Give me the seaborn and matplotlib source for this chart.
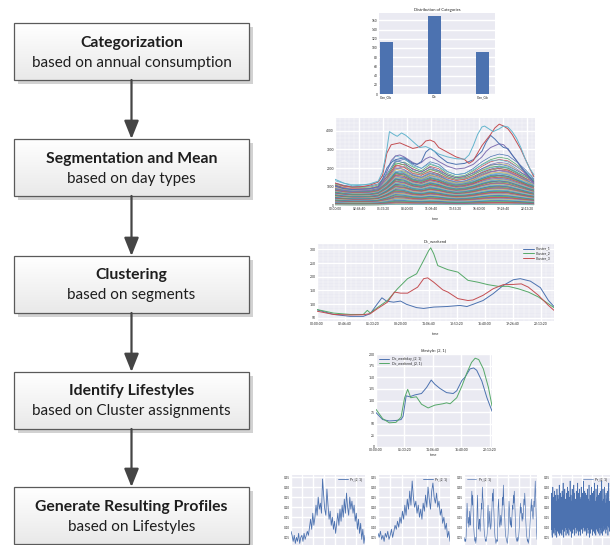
import matplotlib
matplotlib.use("Agg")
import matplotlib.pyplot as plt
import matplotlib.patches as mpatches
from matplotlib.colors import LinearSegmentedColormap
from matplotlib.ticker import FuncFormatter, MultipleLocator
import seaborn as sns
import numpy as np
import pandas as pd

# ---- flowchart steps ----
STEP_TITLES = ["Categorization", "Segmentation and Mean", "Clustering",
               "Identify Lifestyles", "Generate Resulting Profiles"]
STEP_NOTES = ["based on annual consumption", "based on day types", "based on segments",
              "based on Cluster assignments", "based on Lifestyles"]

# ---- thumbnail 1: categories ----
CATEGORIES = ["Gen_Ob", "Ob", "Gen_Gb"]
CATEGORY_COUNTS = [113, 169, 92]

# ---- thumbnail 2: mean day profiles (hours / W) ----
TOP_CYAN_H = [0, 1, 2, 3, 4, 5, 5.5, 6, 6.3, 6.8, 7.2, 7.7, 8.2, 8.7, 9.3, 9.8, 10.5, 11, 12, 13,
              14, 15, 15.5, 16, 16.5, 17, 17.3, 17.8, 18.3, 19, 19.5, 20, 20.5, 21, 21.5, 22, 22.5, 23]
TOP_CYAN_V = [1400, 1200, 1050, 1080, 1150, 1300, 1800, 3000, 3950, 3800, 3700, 3880, 3750, 3550,
              3300, 3100, 3150, 3050, 2750, 2600, 2500, 2480, 2700, 3200, 3800, 4200, 4250, 4100,
              3950, 4100, 4250, 4200, 3950, 3600, 3100, 2500, 2000, 1650]
TOP_RED_H = [0, 1, 2, 3, 4, 5, 5.5, 6, 6.5, 7, 7.5, 8, 8.5, 9, 9.5, 10, 10.5, 11, 11.5, 12, 13, 14,
             15, 15.5, 16, 16.5, 17, 17.5, 18, 18.5, 19, 19.5, 20, 20.5, 21, 21.5, 22, 22.5, 23]
TOP_RED_V = [1200, 1050, 980, 1000, 1080, 1250, 1600, 2800, 3250, 3300, 3350, 3250, 3150, 3050,
             3100, 3200, 3450, 3500, 3400, 3100, 2850, 2600, 2450, 2250, 2400, 2800, 3200, 3500,
             3800, 4150, 4350, 4250, 4100, 3800, 3400, 3000, 2500, 2000, 1550]
TOP_HOURS = [0, 1, 2, 3, 4, 5, 5.5, 6, 6.5, 7, 7.5, 8, 8.5, 9, 9.5, 10, 10.5, 11, 11.5, 12, 13, 14,
             15, 16, 17, 17.5, 18, 18.5, 19, 19.5, 20, 20.5, 21, 22, 23]
TOP_BLUE_V = [1050, 900, 850, 870, 900, 1000, 1400, 2000, 2300, 2450, 2500, 2550, 2400, 2250, 2200,
              2350, 2850, 3050, 2900, 2650, 2300, 2200, 2250, 2450, 2900, 3400, 3750, 3550, 3300,
              3100, 3050, 2700, 2400, 1800, 1250]
TOP_PURPLE_V = [900, 800, 760, 780, 800, 900, 1200, 1800, 2400, 2650, 2700, 2600, 2450, 2300, 2200,
                2300, 2500, 2600, 2500, 2350, 2100, 1950, 2000, 2200, 2600, 2900, 3100, 3200, 3300,
                3250, 3000, 2700, 2400, 1700, 1150]
BULK_HOURS = list(range(24))
BULK_SHAPE_A = [0.40, 0.34, 0.31, 0.30, 0.31, 0.35, 0.55, 0.85, 0.90, 0.80, 0.72, 0.85, 0.80, 0.66,
                0.60, 0.62, 0.72, 0.85, 0.95, 1.00, 0.97, 0.85, 0.70, 0.52]
BULK_SHAPE_B = [0.50, 0.45, 0.42, 0.42, 0.43, 0.48, 0.70, 1.00, 0.95, 0.80, 0.75, 0.85, 0.78, 0.68,
                0.62, 0.65, 0.72, 0.82, 0.90, 0.92, 0.88, 0.78, 0.68, 0.58]
BULK_LEVELS_A = [2750, 2580, 2460, 2310, 2240, 2120, 2050, 1980, 1900, 1870, 1790, 1740, 1690, 1620,
                 1600, 1530, 1480, 1450, 1390, 1330, 1310, 1240, 1200, 1160, 1090, 1050, 1010, 960,
                 910, 880, 820, 770, 720, 690, 640, 580, 540, 480, 430, 390, 340, 290, 250, 190,
                 150, 110, 70]
BULK_LEVELS_B = [2650, 2400, 2280, 2150, 2020, 1930, 1840, 1760, 1710, 1640, 1570, 1510, 1460, 1420,
                 1370, 1300, 1270, 1220, 1180, 1130, 1070, 1020, 980, 940, 890, 840, 800, 760, 700,
                 660, 610, 570, 520, 470, 410, 370, 320, 270, 230, 180, 130, 90, 60]

# ---- thumbnail 3: cluster centres, weekend ----
C1_H = [0, 1.65, 3.3, 4.6, 5.3, 6, 6.45, 6.9, 7.6, 8.3, 8.9, 9.9, 10.6, 11.6, 12.9, 14.2, 14.9,
        15.5, 16.5, 17.5, 18.5, 19.5, 20.2, 21.2, 22.2, 23, 23.55]
C1_V = [79, 62, 55, 55, 65, 101, 123, 111, 107, 111, 99, 87, 84, 89, 91, 95, 91, 99, 113, 138, 168,
        189, 193, 184, 160, 113, 91]
C2_H = [0, 1.65, 3.3, 4.6, 5, 5.3, 6, 7, 8, 9, 9.9, 10.6, 11.1, 11.3, 11.6, 12, 13, 14, 15, 16, 17,
        18, 19, 20, 21, 22, 23, 23.55]
C2_V = [80, 67, 62, 62, 77, 67, 87, 113, 156, 193, 211, 260, 296, 306, 284, 241, 226, 217, 187, 180,
        171, 165, 165, 156, 144, 126, 101, 87]
C3_H = [0, 1.65, 3.3, 4.6, 5.3, 6, 7, 7.7, 8.3, 9, 10, 10.6, 11, 11.6, 12.5, 13, 14, 15, 15.5, 16.5,
        17.5, 18.5, 19.5, 20.3, 21, 22, 23, 23.55]
C3_V = [74, 62, 60, 61, 65, 83, 107, 144, 140, 140, 162, 193, 196, 180, 152, 144, 120, 113, 115,
        132, 156, 171, 172, 174, 162, 132, 95, 77]

# ---- thumbnail 4: lifestyle [2, 1] ----
WD_H = [0, 1.3, 2.6, 3.9, 4.9, 5.3, 5.9, 6.6, 7.6, 8.9, 9.9, 10.8, 11.5, 12.5, 13.8, 15.1, 15.8,
        16.8, 17.4, 18.4, 19.1, 19.7, 20.7, 21.7, 22.7]
WD_V = [74, 59, 56, 57, 59, 66, 110, 108, 112, 115, 128, 144, 135, 126, 117, 115, 121, 143, 150,
        168, 170, 165, 142, 106, 77]
WE_H = [0, 1.3, 2.6, 3.9, 4.9, 5.6, 6.2, 6.8, 7.9, 8.9, 10.2, 11.5, 13.1, 13.8, 14.5, 15.8, 16.8,
        17.8, 18.7, 19.4, 20.1, 21, 22, 22.7]
WE_V = [81, 61, 52, 53, 64, 106, 124, 106, 108, 92, 84, 90, 93, 95, 93, 106, 131, 160, 182, 191,
        188, 168, 128, 88]

# ---- thumbnails 5: generated profiles ----
PR1 = [0.08, 0.06, 0.03, 0.06, 0.02, 0.05, 0.03, 0.07, 0.02, 0.05, 0.06, 0.03, 0.07, 0.04, 0.06,
       0.08, 0.06, 0.10, 0.14, 0.09, 0.17, 0.11, 0.15, 0.21, 0.16, 0.25, 0.19, 0.22, 0.17, 0.34,
       0.26, 0.19, 0.16, 0.29, 0.21, 0.14, 0.18, 0.11, 0.15, 0.09, 0.13, 0.07, 0.12, 0.17, 0.11,
       0.19, 0.13, 0.21, 0.15, 0.24, 0.17, 0.27, 0.20, 0.16, 0.25, 0.19, 0.23, 0.17, 0.21, 0.13,
       0.17, 0.09, 0.14, 0.07, 0.12, 0.04, 0.09, 0.02, 0.06]
PR2 = [0.07, 0.05, 0.08, 0.04, 0.06, 0.03, 0.07, 0.05, 0.08, 0.04, 0.06, 0.09, 0.05, 0.08, 0.11,
       0.09, 0.13, 0.10, 0.15, 0.12, 0.18, 0.14, 0.21, 0.16, 0.24, 0.19, 0.28, 0.21, 0.33, 0.25,
       0.20, 0.23, 0.17, 0.21, 0.15, 0.19, 0.14, 0.22, 0.18, 0.26, 0.20, 0.30, 0.24, 0.19, 0.28,
       0.32, 0.25, 0.22, 0.27, 0.20, 0.23, 0.16, 0.19, 0.12, 0.15, 0.09, 0.12, 0.05, 0.08, 0.03]
PR3 = [0.05, 0.04, 0.03, 0.04, 0.03, 0.06, 0.14, 0.22, 0.17, 0.12, 0.15, 0.10, 0.13, 0.18, 0.11, 0.14, 0.19, 0.24, 0.28, 0.21, 0.26, 0.18, 0.11, 0.07,
       0.04, 0.03, 0.05, 0.02, 0.04, 0.08, 0.19, 0.26, 0.15, 0.11, 0.09, 0.14, 0.12, 0.08, 0.13, 0.17, 0.22, 0.19, 0.30, 0.25, 0.22, 0.15, 0.09, 0.06,
       0.05, 0.03, 0.04, 0.03, 0.05, 0.07, 0.16, 0.21, 0.13, 0.10, 0.14, 0.18, 0.12, 0.09, 0.11, 0.15, 0.20, 0.27, 0.23, 0.29, 0.20, 0.14, 0.08, 0.05,
       0.04, 0.02, 0.03, 0.04, 0.03, 0.09, 0.20, 0.24, 0.18, 0.12, 0.10, 0.13, 0.16, 0.11, 0.14, 0.18, 0.25, 0.21, 0.31, 0.24, 0.19, 0.16, 0.10, 0.06,
       0.05, 0.04, 0.03, 0.02, 0.04, 0.07, 0.15, 0.23, 0.19, 0.13, 0.11, 0.15, 0.10, 0.12, 0.16, 0.21, 0.19, 0.26, 0.22, 0.28, 0.23, 0.17, 0.09, 0.05,
       0.04, 0.03, 0.05, 0.03, 0.04, 0.05, 0.08, 0.13, 0.18, 0.22, 0.17, 0.20, 0.15, 0.13, 0.17, 0.14, 0.19, 0.24, 0.21, 0.27, 0.22, 0.15, 0.10, 0.06,
       0.05, 0.03, 0.04, 0.02, 0.03, 0.05, 0.07, 0.11, 0.16, 0.20, 0.24, 0.18, 0.21, 0.16, 0.14, 0.18, 0.23, 0.20, 0.26, 0.33, 0.25, 0.16, 0.09, 0.04]
PR4 = [0.06, 0.21, 0.09, 0.27, 0.12, 0.18, 0.05, 0.24, 0.14, 0.30, 0.08, 0.19, 0.11, 0.25, 0.07, 0.16, 0.22, 0.10, 0.28, 0.13, 0.06, 0.20, 0.15, 0.26,
       0.09, 0.23, 0.12, 0.17, 0.05, 0.29, 0.10, 0.21, 0.16, 0.08, 0.26, 0.13, 0.19, 0.07, 0.24, 0.11, 0.31, 0.14, 0.06, 0.22, 0.18, 0.09, 0.27, 0.12,
       0.07, 0.25, 0.15, 0.10, 0.20, 0.06, 0.28, 0.13, 0.23, 0.09, 0.18, 0.32, 0.11, 0.17, 0.05, 0.26, 0.14, 0.21, 0.08, 0.29, 0.12, 0.19, 0.10, 0.24,
       0.13, 0.06, 0.22, 0.16, 0.27, 0.09, 0.19, 0.12, 0.30, 0.07, 0.24, 0.15, 0.10, 0.28, 0.18, 0.06, 0.21, 0.13, 0.25, 0.09, 0.17, 0.33, 0.11, 0.20,
       0.08, 0.26, 0.12, 0.19, 0.05, 0.23, 0.15, 0.29, 0.10, 0.18, 0.07, 0.25, 0.14, 0.21, 0.09, 0.31, 0.12, 0.17, 0.06, 0.27, 0.16, 0.11, 0.24, 0.13,
       0.10, 0.20, 0.07, 0.28, 0.14, 0.23, 0.09, 0.17, 0.26, 0.12, 0.32, 0.08, 0.19, 0.15, 0.27, 0.06, 0.22, 0.11, 0.29, 0.16, 0.08, 0.25, 0.13, 0.18,
       0.06, 0.24, 0.11, 0.30, 0.16, 0.09, 0.21, 0.13, 0.27, 0.07, 0.19, 0.14, 0.25, 0.10, 0.33, 0.12, 0.18, 0.08, 0.23, 0.15, 0.28, 0.09, 0.20, 0.12,
       0.11, 0.27, 0.08, 0.18, 0.22, 0.06, 0.26, 0.14, 0.19, 0.10, 0.29, 0.13, 0.07, 0.24, 0.16, 0.21, 0.09, 0.31, 0.12, 0.17, 0.05, 0.23, 0.14, 0.26,
       0.07, 0.19, 0.13, 0.25, 0.09, 0.30, 0.15, 0.11, 0.22, 0.06, 0.27, 0.17, 0.12, 0.20, 0.08, 0.28, 0.14, 0.24, 0.10, 0.18, 0.32, 0.07, 0.21, 0.15,
       0.12, 0.23, 0.06, 0.29, 0.11, 0.18, 0.25, 0.09, 0.20, 0.14, 0.31, 0.08, 0.22, 0.16, 0.07, 0.26, 0.13, 0.19, 0.10, 0.27, 0.15, 0.24, 0.06, 0.20,
       0.09, 0.28, 0.14, 0.21, 0.07, 0.25, 0.12, 0.33, 0.10, 0.18, 0.06, 0.23, 0.15, 0.29, 0.11, 0.17, 0.24, 0.08, 0.20, 0.13, 0.30, 0.09, 0.26, 0.12,
       0.10, 0.22, 0.16, 0.07, 0.27, 0.13, 0.19, 0.09, 0.24, 0.15, 0.28, 0.11, 0.21, 0.06, 0.25, 0.14, 0.18, 0.32, 0.10, 0.23, 0.08, 0.19, 0.12, 0.22]

W, H = 612, 545
DEEP = sns.color_palette("deep6")

sns.set_theme(style="darkgrid")
plt.rcParams['font.family'] = ['Lato', 'DejaVu Sans']

fig = plt.figure(figsize=(W / 100, H / 100), dpi=100)
fig.patch.set_facecolor("white")


def px_axes(x0, y0, x1, y1):
    return fig.add_axes([x0 / W, 1 - y1 / H, (x1 - x0) / W, (y1 - y0) / H])


def hms(x, pos=None):
    s = int(round(x))
    return f"{s // 3600:02d}:{(s % 3600) // 60:02d}:{s % 60:02d}"


def small_style(ax, fs=2.6):
    ax.tick_params(labelsize=fs, pad=0.8, length=0)
    ax.xaxis.label.set_size(fs + 0.3)
    ax.yaxis.label.set_size(fs + 0.3)
    ax.xaxis.labelpad = 0.8
    for s in ax.spines.values():
        s.set_visible(False)


# ---- flowchart ----
flow = fig.add_axes([0, 0, 1, 1])
box_x, box_w, box_h = 14, 235, 57
box_tops = [23, 139, 256, 372, 487]
cx = box_x + box_w / 2
grad = LinearSegmentedColormap.from_list("g", ["#ffffff", "#e9e9e9"])
for i, (title, note) in enumerate(zip(STEP_TITLES, STEP_NOTES)):
    top = box_tops[i]
    flow.add_patch(mpatches.Rectangle((box_x + 4, top + 4), box_w, box_h,
                                      fc="#d2d2d2", ec="none", zorder=1))
    flow.imshow(np.linspace(0, 1, 64).reshape(-1, 1), cmap=grad, aspect="auto",
                extent=(box_x, box_x + box_w, top + box_h, top), origin="upper", zorder=2)
    flow.add_patch(mpatches.Rectangle((box_x, top), box_w, box_h, fill=False,
                                      ec="#5a5a5a", lw=0.9, zorder=3))
    flow.text(cx, top + 19.5, title, ha="center", va="center", fontsize=11.3,
              fontweight="bold", color="#1e1e1e", zorder=4)
    flow.text(cx, top + 39.5, note, ha="center", va="center", fontsize=11,
              color="#1e1e1e", zorder=4)
    if i < len(STEP_TITLES) - 1:
        flow.annotate("", xy=(cx, box_tops[i + 1]), xytext=(cx, top + box_h),
                      arrowprops=dict(arrowstyle="-|>,head_length=0.55,head_width=0.22",
                                      color="#454545", lw=1.6, shrinkA=0, shrinkB=0,
                                      mutation_scale=20), zorder=4)
flow.set_xlim(0, W)
flow.set_ylim(H, 0)
flow.axis("off")

# ---- 1: distribution of categories ----
ax1 = px_axes(379, 13, 495, 94)
sns.barplot(x=CATEGORIES, y=CATEGORY_COUNTS, color=DEEP[0], width=0.27, ax=ax1,
            saturation=1, edgecolor="none")
ax1.set_xlim(-0.15, 2.25)
ax1.set_ylim(0, 176)
ax1.yaxis.set_major_locator(MultipleLocator(20))
ax1.set_title("Distribution of Categories", fontsize=3, pad=1.5)
small_style(ax1, 2.3)

# ---- 2: mean day-type profiles of all households ----
ax2 = px_axes(335, 118, 535, 206)
rows = []
k = 0
for shape, levels in ((BULK_SHAPE_A, BULK_LEVELS_A), (BULK_SHAPE_B, BULK_LEVELS_B)):
    for lv in levels:
        for h, f in zip(BULK_HOURS, shape):
            rows.append((k, h * 3600, f * lv))
        k += 1
bulk = pd.DataFrame(rows, columns=["house", "t", "w"])
sns.lineplot(data=bulk, x="t", y="w", hue="house", palette=[DEEP[j % 6] for j in range(k)],
             legend=False, lw=0.5, ax=ax2, estimator=None)
for hrs, vals, col in ((TOP_HOURS, TOP_PURPLE_V, DEEP[3]), (TOP_HOURS, TOP_BLUE_V, DEEP[0]),
                       (TOP_RED_H, TOP_RED_V, DEEP[2]), (TOP_CYAN_H, TOP_CYAN_V, DEEP[5])):
    sns.lineplot(x=np.array(hrs) * 3600, y=vals, color=col, lw=0.7, ax=ax2)
ax2.set_xlim(0, 83300)
ax2.set_ylim(-30, 4680)
ax2.xaxis.set_major_locator(MultipleLocator(10000))
ax2.xaxis.set_major_formatter(FuncFormatter(hms))
ax2.yaxis.set_major_locator(MultipleLocator(1000))
ax2.set_xlabel("time")
ax2.set_ylabel("")
ax2.minorticks_on()
ax2.grid(which="minor", color="white", lw=0.25)
small_style(ax2, 2.3)

# ---- 3: clusters, weekend ----
ax3 = px_axes(317, 244, 554, 321)
for hrs, vals, col, name in ((C1_H, C1_V, DEEP[0], "Cluster_1"), (C2_H, C2_V, DEEP[1], "Cluster_2"),
                             (C3_H, C3_V, DEEP[2], "Cluster_3")):
    sns.lineplot(x=np.array(hrs) * 3600, y=vals, color=col, lw=0.7, ax=ax3, label=name)
ax3.set_xlim(0, 84780)
ax3.set_ylim(38, 320)
ax3.xaxis.set_major_locator(MultipleLocator(10000))
ax3.xaxis.set_major_formatter(FuncFormatter(hms))
ax3.yaxis.set_major_locator(MultipleLocator(50))
ax3.set_xlabel("time")
ax3.set_title("Dc_weekend", fontsize=3, pad=1.2)
ax3.minorticks_on()
ax3.grid(which="minor", color="white", lw=0.25)
ax3.legend(loc="upper right", fontsize=2.5, frameon=False, handlelength=3, borderpad=0.3,
           labelspacing=0.2)
small_style(ax3, 2.4)

# ---- 4: lifestyle ----
ax4 = px_axes(376, 354, 492, 447)
sns.lineplot(x=np.array(WD_H) * 3600, y=WD_V, color=DEEP[0], lw=0.7, ax=ax4,
             label="Dc_weekday_[2, 1]")
sns.lineplot(x=np.array(WE_H) * 3600, y=WE_V, color=DEEP[1], lw=0.7, ax=ax4,
             label="Dc_weekend_[2, 1]")
ax4.set_xlim(0, 81700)
ax4.set_ylim(0, 200)
ax4.xaxis.set_major_locator(MultipleLocator(20000))
ax4.xaxis.set_major_formatter(FuncFormatter(hms))
ax4.yaxis.set_major_locator(MultipleLocator(25))
ax4.set_xlabel("time")
ax4.set_title("lifestyle: [2, 1]", fontsize=3, pad=1.2)
ax4.legend(loc="upper left", fontsize=2.5, frameon=False, handlelength=3, borderpad=0.3,
           labelspacing=0.2)
small_style(ax4, 2.4)

# ---- 5: generated profiles ----
profiles = [(PR1, (291, 365), "upper right"), (PR2, (378, 450), "upper right"),
            (PR3, (464, 537), "upper left"), (PR4, (551, 610), "upper right")]
for vals, (x0, x1), loc in profiles:
    ax = px_axes(x0, 475, x1, 545)
    sns.lineplot(x=np.arange(len(vals)), y=vals, color=DEEP[0],
                 lw=0.6 if len(vals) < 100 else 0.45, ax=ax, label="Pr_[2, 1]")
    ax.set_xlim(0, len(vals) - 1)
    ax.set_ylim(0.012, 0.36)
    ax.yaxis.set_major_locator(MultipleLocator(0.05))
    ax.set_xticklabels([])
    ax.legend(loc=loc, fontsize=2.3, frameon=False, handlelength=3, borderpad=0.3)
    small_style(ax, 2.2)

fig.savefig("out.png", dpi=100)
plt.close(fig)
